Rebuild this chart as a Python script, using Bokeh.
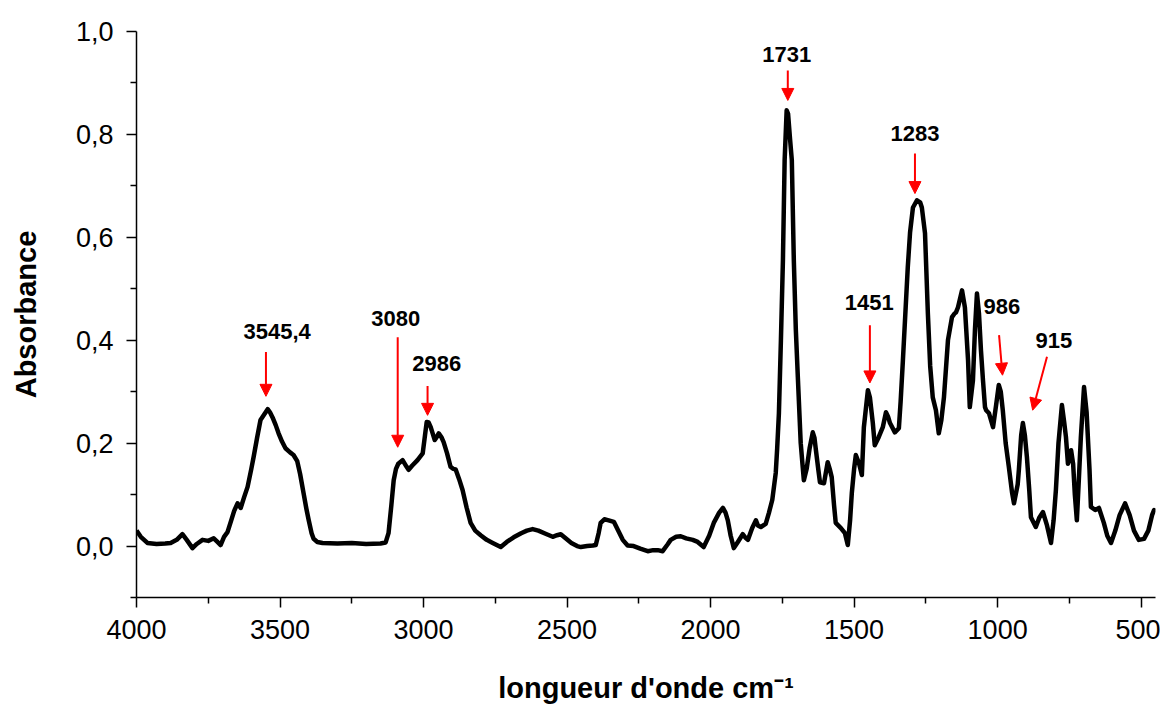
from bokeh.plotting import figure
from bokeh.models import (Range1d, Arrow, NormalHead, CustomJSTickFormatter,
                          FixedTicker, ColumnDataSource)
from bokeh.core.properties import value
from bokeh.embed import file_html
from bokeh.resources import INLINE

# ---- spectrum (wavenumber cm-1, absorbance) ----
wavenumber = [
    4000, 3985, 3962, 3930, 3900, 3881, 3860, 3840, 3825, 3805, 3790, 3770, 3750, 3731, 3718, 3707,
    3695, 3683, 3670, 3660, 3648, 3637, 3625, 3613, 3600, 3592, 3580, 3568, 3557, 3543, 3535, 3526,
    3515, 3505, 3493, 3481, 3465, 3453, 3440, 3430, 3418, 3408, 3400, 3390, 3383, 3370, 3352, 3300,
    3250, 3200, 3150, 3132, 3122, 3112, 3104, 3096, 3088, 3073, 3060, 3052, 3040, 3021, 3003, 2995,
    2989, 2982, 2975, 2961, 2954, 2947, 2938, 2930, 2918, 2906, 2897, 2888, 2876, 2864, 2850, 2836,
    2820, 2801, 2780, 2759, 2731, 2710, 2686, 2660, 2640, 2620, 2600, 2575, 2550, 2535, 2522, 2505,
    2485, 2465, 2452, 2430, 2410, 2400, 2390, 2383, 2370, 2355, 2337, 2322, 2306, 2289, 2268, 2245,
    2219, 2200, 2184, 2167, 2150, 2139, 2120, 2104, 2085, 2062, 2045, 2024, 2005, 1989, 1970, 1957,
    1948, 1940, 1930, 1919, 1905, 1888, 1878, 1870, 1855, 1842, 1835, 1825, 1808, 1797, 1785, 1773,
    1768, 1762, 1755, 1748, 1742, 1735, 1730, 1723, 1717, 1710, 1703, 1696, 1686, 1680, 1675, 1665,
    1655, 1644, 1638, 1633, 1625, 1619, 1605, 1592, 1585, 1578, 1570, 1564, 1546, 1532, 1522, 1514,
    1508, 1500, 1494, 1483, 1473, 1466, 1452, 1445, 1435, 1428, 1414, 1400, 1389, 1382, 1375, 1358,
    1344, 1338, 1330, 1313, 1305, 1295, 1281, 1270, 1264, 1253, 1243, 1235, 1226, 1215, 1205, 1196,
    1187, 1173, 1159, 1150, 1145, 1138, 1124, 1114, 1103, 1097, 1086, 1079, 1072, 1065, 1058, 1051,
    1044, 1040, 1030, 1016, 1005, 996, 989, 982, 972, 961, 950, 943, 930, 926, 918, 912,
    905, 898, 890, 884, 867, 855, 842, 828, 814, 805, 797, 788, 776, 768, 762, 755,
    749, 744, 737, 731, 724, 717, 710, 699, 690, 680, 675, 660, 647, 630, 618, 605,
    590, 575, 556, 540, 525, 508, 490, 475, 462, 455, 450,
]
absorbance = [
    0.030, 0.018, 0.006, 0.004, 0.005, 0.006, 0.012, 0.023, 0.012, -0.004, 0.004, 0.012, 0.010, 0.015, 0.008, 0.002,
    0.018, 0.027, 0.050, 0.068, 0.083, 0.074, 0.095, 0.115, 0.150, 0.173, 0.210, 0.245, 0.254, 0.266, 0.260, 0.250,
    0.235, 0.219, 0.203, 0.190, 0.182, 0.177, 0.165, 0.140, 0.103, 0.072, 0.050, 0.025, 0.014, 0.008, 0.006, 0.005,
    0.006, 0.004, 0.005, 0.007, 0.025, 0.080, 0.128, 0.150, 0.160, 0.167, 0.155, 0.148, 0.156, 0.167, 0.180, 0.215,
    0.241, 0.240, 0.231, 0.206, 0.212, 0.219, 0.212, 0.202, 0.180, 0.154, 0.150, 0.149, 0.130, 0.109, 0.075, 0.045,
    0.030, 0.021, 0.012, 0.006, -0.002, 0.008, 0.017, 0.025, 0.030, 0.033, 0.030, 0.024, 0.018, 0.021, 0.023, 0.015,
    0.006, 0.000, -0.002, 0.000, 0.001, 0.002, 0.025, 0.045, 0.052, 0.050, 0.047, 0.030, 0.012, 0.001, 0.000, -0.005,
    -0.010, -0.008, -0.008, -0.010, 0.003, 0.012, 0.018, 0.019, 0.015, 0.012, 0.008, -0.002, 0.020, 0.045, 0.065, 0.074,
    0.065, 0.050, 0.020, -0.004, 0.008, 0.023, 0.016, 0.012, 0.035, 0.050, 0.040, 0.037, 0.043, 0.064, 0.090, 0.142,
    0.190, 0.258, 0.400, 0.555, 0.750, 0.847, 0.840, 0.790, 0.750, 0.555, 0.420, 0.328, 0.200, 0.160, 0.128, 0.151,
    0.190, 0.221, 0.210, 0.186, 0.150, 0.124, 0.122, 0.163, 0.150, 0.134, 0.080, 0.045, 0.035, 0.025, 0.002, 0.050,
    0.103, 0.150, 0.177, 0.161, 0.138, 0.231, 0.303, 0.289, 0.240, 0.196, 0.212, 0.231, 0.260, 0.252, 0.239, 0.221,
    0.229, 0.280, 0.361, 0.542, 0.610, 0.658, 0.672, 0.668, 0.658, 0.608, 0.452, 0.350, 0.289, 0.264, 0.219, 0.245,
    0.289, 0.400, 0.445, 0.452, 0.454, 0.464, 0.497, 0.464, 0.361, 0.270, 0.322, 0.420, 0.491, 0.452, 0.380, 0.322,
    0.270, 0.264, 0.258, 0.231, 0.275, 0.313, 0.300, 0.264, 0.200, 0.154, 0.105, 0.083, 0.120, 0.148, 0.215, 0.239,
    0.215, 0.173, 0.110, 0.056, 0.037, 0.055, 0.066, 0.040, 0.006, 0.050, 0.109, 0.200, 0.274, 0.240, 0.212, 0.160,
    0.170, 0.186, 0.160, 0.100, 0.050, 0.130, 0.212, 0.309, 0.260, 0.150, 0.076, 0.070, 0.074, 0.045, 0.020, 0.006,
    0.030, 0.060, 0.083, 0.060, 0.030, 0.012, 0.014, 0.030, 0.060, 0.070, 0.068,
]

# ---- peak annotations ----
peak_labels = ["3545,4", "3080", "2986", "1731", "1283", "1451", "986", "915"]
label_wn = [3510, 3097, 2954, 1735, 1288, 1447, 985, 804]
label_abs = [0.416, 0.443, 0.355, 0.955, 0.802, 0.474, 0.466, 0.400]
arrow_wn_start = [3549, 3090, 2986, 1731, 1288, 1445, 995, 828]
arrow_abs_start = [0.377, 0.406, 0.311, 0.924, 0.763, 0.429, 0.410, 0.368]
arrow_wn_end = [3549, 3090, 2986, 1731, 1288, 1445, 983, 878]
arrow_abs_end = [0.291, 0.192, 0.254, 0.866, 0.685, 0.317, 0.332, 0.264]

# ---- axes ticks ----
x_major = [4000, 3500, 3000, 2500, 2000, 1500, 1000, 500]
x_minor = [3750, 3250, 2750, 2250, 1750, 1250, 750]
y_major = [0.0, 0.2, 0.4, 0.6, 0.8, 1.0]
y_minor = [-0.1, 0.1, 0.3, 0.5, 0.7, 0.9]

x_title = "longueur d'onde cm\u207b\u00b9"
y_title = "Absorbance"

FONT = "Liberation Sans"

p = figure(width=1160, height=707, output_backend="svg", toolbar_location=None,
           x_range=Range1d(4000, 450), y_range=Range1d(-0.1, 1.0),
           min_border_left=136, min_border_right=5, min_border_top=31, min_border_bottom=110)
p.outline_line_color = None
p.xgrid.visible = False
p.ygrid.visible = False

p.line(wavenumber, absorbance, line_width=4.5, line_color="black", line_join="round")

# axes styling
for ax in (p.xaxis[0], p.yaxis[0]):
    ax.axis_line_width = 1.5
    ax.axis_line_color = "black"
    ax.major_tick_line_color = "black"
    ax.minor_tick_line_color = "black"
    ax.major_tick_line_width = 1.5
    ax.minor_tick_line_width = 1.5
    ax.major_tick_in = 0
    ax.major_tick_out = 10
    ax.minor_tick_in = 0
    ax.minor_tick_out = 6
    ax.major_label_text_font = FONT
    ax.major_label_text_font_size = "27px"
    ax.major_label_text_color = "black"

p.xaxis.ticker = FixedTicker(ticks=x_major, minor_ticks=x_minor)
p.yaxis.ticker = FixedTicker(ticks=y_major, minor_ticks=y_minor)
p.xaxis.formatter = CustomJSTickFormatter(code="return tick.toFixed(0);")
p.yaxis.formatter = CustomJSTickFormatter(code="return tick.toFixed(1).replace('.', ',');")
p.xaxis.major_label_standoff = 12
p.yaxis.major_label_standoff = 13

p.yaxis.axis_label = y_title
p.yaxis.axis_label_text_font = FONT
p.yaxis.axis_label_text_font_style = "bold"
p.yaxis.axis_label_text_font_size = "29px"
p.yaxis.axis_label_text_color = "black"
p.yaxis.axis_label_standoff = 31

p.xaxis.axis_label = x_title
p.xaxis.axis_label_text_font = FONT
p.xaxis.axis_label_text_font_style = "bold"
p.xaxis.axis_label_text_font_size = "29px"
p.xaxis.axis_label_text_color = "black"
p.xaxis.axis_label_standoff = 30

# peak labels
p.text(x=label_wn, y=label_abs, text=peak_labels, text_font=value(FONT),
       text_font_style="bold", text_font_size="22px", text_align="center",
       text_baseline="middle", text_color="black")

# red arrows
arrow_src = ColumnDataSource(dict(xs=arrow_wn_start, ys=arrow_abs_start,
                                  xe=arrow_wn_end, ye=arrow_abs_end))
p.add_layout(Arrow(x_start="xs", y_start="ys", x_end="xe", y_end="ye", source=arrow_src,
                   line_color="red", line_width=2,
                   end=NormalHead(size=12, fill_color="red", line_color="red", line_width=1)))

open("out.html", "w").write(file_html(p, INLINE))
